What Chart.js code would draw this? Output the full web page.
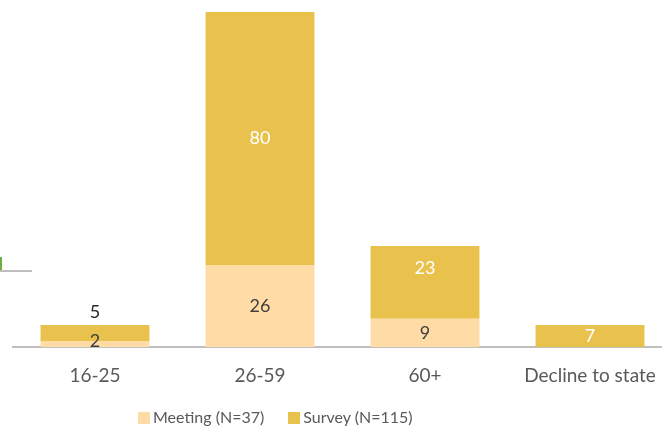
<!DOCTYPE html>
<html>
<head>
<meta charset="utf-8">
<script src="https://cdn.jsdelivr.net/npm/chart.js@4"></script>
<style>
  html, body { margin: 0; padding: 0; background: #fff; overflow: hidden; }
  #wrap { position: relative; width: 662px; height: 429px; overflow: hidden; }
  #chart { position: absolute; left: 0; top: 0; }
  #legend { position: absolute; left: 138px; top: 407px; font: 16px Lato, sans-serif; color: #595959; white-space: nowrap; }
  #legend span.box { display: inline-block; width: 12px; height: 12px; margin-right: 3px; vertical-align: -1px; }
  #legend span.item { margin-right: 24px; }
  .stub { position: absolute; }
</style>
</head>
<body>
<div id="wrap">
  <canvas id="chart" width="680" height="429"></canvas>
  <div class="stub" style="left:0;top:270px;width:32px;height:2px;background:#BFBFBF"></div>
  <div class="stub" style="left:0;top:257px;width:2px;height:13px;background:#70AD47"></div>
  <div id="legend"></div>
</div>
<script>
'use strict';

const categories = ['16-25', '26-59', '60+', 'Decline to state'];
const meetingValues = [2, 26, 9, 0];
const surveyValues = [5, 80, 23, 7];
const seriesNames = ['Meeting (N=37)', 'Survey (N=115)'];
const seriesColors = ['#FFDCA6', '#E9C24E'];

// small label tweaks, as in the original (key: dataset-category -> dy or 'above')
const labelNudge = { '0-0': -3, '1-0': 'above', '1-2': -14 };
const labelColors = ['#404040', '#FFFFFF'];

const barLabels = {
  id: 'barLabels',
  afterDatasetsDraw(chart) {
    const ctx = chart.ctx;
    ctx.save();
    ctx.font = '18px Lato, sans-serif';
    ctx.textAlign = 'center';
    ctx.textBaseline = 'middle';
    chart.data.datasets.forEach((ds, di) => {
      const meta = chart.getDatasetMeta(di);
      meta.data.forEach((bar, i) => {
        const v = ds.data[i];
        if (!v) return;
        const nudge = labelNudge[di + '-' + i];
        let y = (bar.y + bar.base) / 2;
        let color = labelColors[di];
        if (nudge === 'above') {
          y = bar.y - 13;
          color = '#262626';
        } else if (typeof nudge === 'number') {
          y += nudge;
        }
        ctx.fillStyle = color;
        ctx.fillText(String(v), bar.x, y);
      });
    });
    ctx.restore();
  }
};

const chartData = {
  labels: categories,
  datasets: [
    { label: seriesNames[0], data: meetingValues, backgroundColor: seriesColors[0] },
    { label: seriesNames[1], data: surveyValues, backgroundColor: seriesColors[1] }
  ]
};

new Chart(document.getElementById('chart'), {
  type: 'bar',
  data: chartData,
  options: {
    responsive: false,
    animation: false,
    categoryPercentage: 1,
    barPercentage: 0.66,
    layout: { padding: { left: 12.5, right: 7.5, top: 12, bottom: 25 } },
    plugins: { legend: { display: false }, tooltip: { enabled: false } },
    scales: {
      x: {
        stacked: true,
        grid: { display: false, drawTicks: false },
        border: { display: true, color: '#BFBFBF', width: 2 },
        ticks: { color: '#595959', font: { family: 'Lato', size: 19 }, padding: 17 }
      },
      y: { stacked: true, display: false, min: 0, max: 106 }
    }
  },
  plugins: [barLabels]
});

// legend
const legendEl = document.getElementById('legend');
seriesNames.forEach((name, k) => {
  const item = document.createElement('span');
  item.className = 'item';
  const box = document.createElement('span');
  box.className = 'box';
  box.style.background = seriesColors[k];
  item.appendChild(box);
  item.appendChild(document.createTextNode(name));
  legendEl.appendChild(item);
});
</script>
</body>
</html>
